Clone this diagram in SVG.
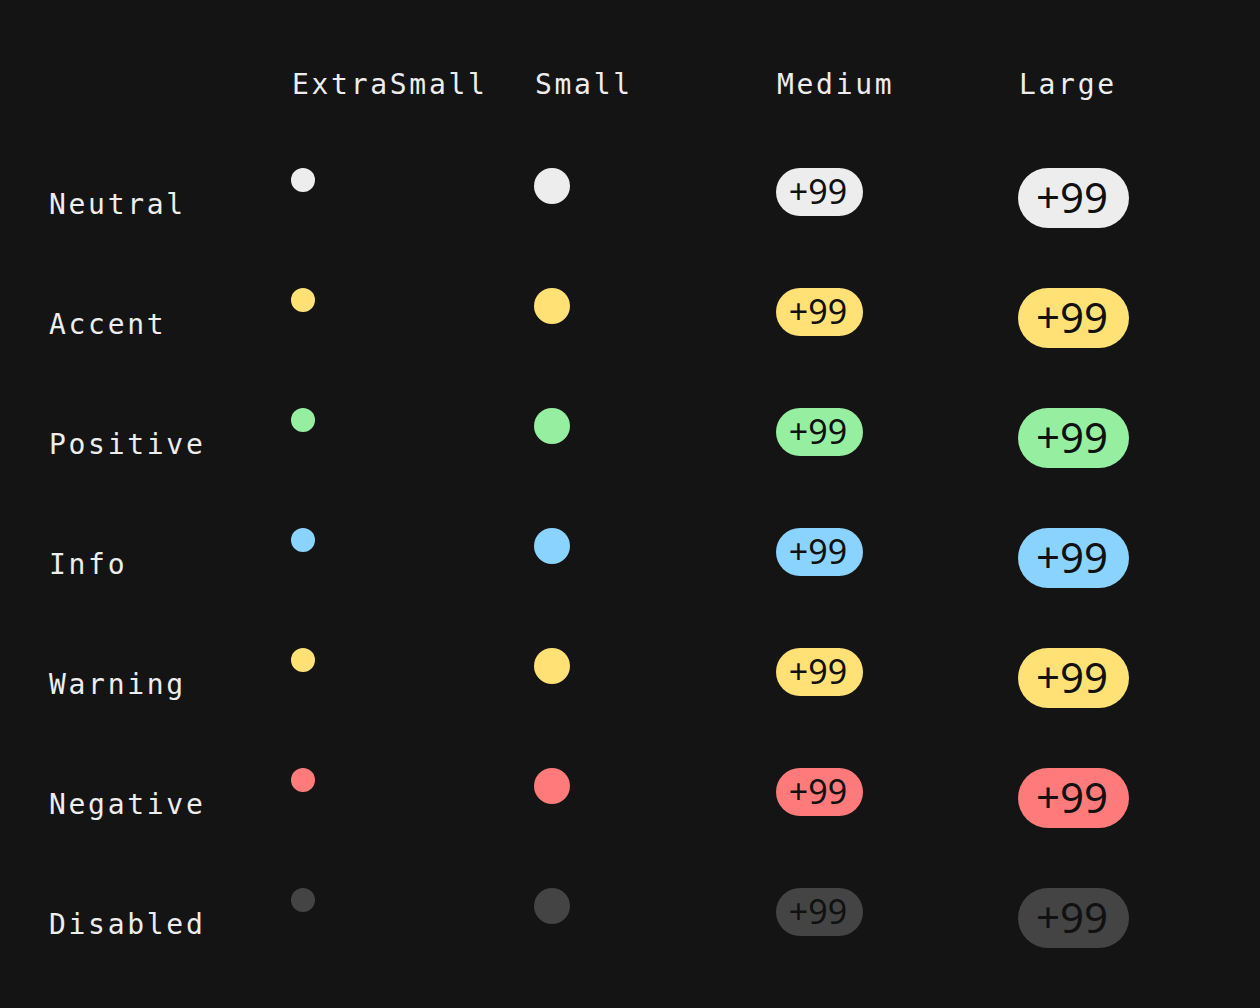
<svg xmlns="http://www.w3.org/2000/svg" width="1260" height="1008" viewBox="0 0 1260 1008">
<style>
.hdr,.lbl{font-family:"DejaVu Sans Mono","Liberation Mono",monospace;font-size:28px;letter-spacing:2.7px;fill:#ededed}
.tm{font-family:"Noto Sans","Open Sans",sans-serif;font-size:34px;fill:#111111;text-anchor:middle}
.tl{font-family:"Noto Sans","Open Sans",sans-serif;font-size:42px;fill:#111111;text-anchor:middle}
.neutral{fill:#ededed}.accent{fill:#ffe175}.positive{fill:#96efa1}.info{fill:#8ad3ff}.warning{fill:#ffe175}.negative{fill:#ff7b7b}.disabled{fill:#444444}
</style>
<rect width="1260" height="1008" fill="#141414"/>
<g id="headers">
<text class="hdr" x="292" y="94">ExtraSmall</text>
<text class="hdr" x="535" y="94">Small</text>
<text class="hdr" x="777" y="94">Medium</text>
<text class="hdr" x="1019" y="94">Large</text>
</g>
<g id="row-neutral">
<text class="lbl" x="49" y="214">Neutral</text>
<circle class="neutral" cx="303" cy="180" r="12"/>
<circle class="neutral" cx="552" cy="186" r="18"/>
<rect class="neutral" x="776" y="168" width="87" height="48" rx="24"/>
<text class="tm" x="818" y="204">+99</text>
<rect class="neutral" x="1018" y="168" width="111" height="60" rx="30"/>
<text class="tl" x="1072" y="213">+99</text>
</g>
<g id="row-accent">
<text class="lbl" x="49" y="334">Accent</text>
<circle class="accent" cx="303" cy="300" r="12"/>
<circle class="accent" cx="552" cy="306" r="18"/>
<rect class="accent" x="776" y="288" width="87" height="48" rx="24"/>
<text class="tm" x="818" y="324">+99</text>
<rect class="accent" x="1018" y="288" width="111" height="60" rx="30"/>
<text class="tl" x="1072" y="333">+99</text>
</g>
<g id="row-positive">
<text class="lbl" x="49" y="454">Positive</text>
<circle class="positive" cx="303" cy="420" r="12"/>
<circle class="positive" cx="552" cy="426" r="18"/>
<rect class="positive" x="776" y="408" width="87" height="48" rx="24"/>
<text class="tm" x="818" y="444">+99</text>
<rect class="positive" x="1018" y="408" width="111" height="60" rx="30"/>
<text class="tl" x="1072" y="453">+99</text>
</g>
<g id="row-info">
<text class="lbl" x="49" y="574">Info</text>
<circle class="info" cx="303" cy="540" r="12"/>
<circle class="info" cx="552" cy="546" r="18"/>
<rect class="info" x="776" y="528" width="87" height="48" rx="24"/>
<text class="tm" x="818" y="564">+99</text>
<rect class="info" x="1018" y="528" width="111" height="60" rx="30"/>
<text class="tl" x="1072" y="573">+99</text>
</g>
<g id="row-warning">
<text class="lbl" x="49" y="694">Warning</text>
<circle class="warning" cx="303" cy="660" r="12"/>
<circle class="warning" cx="552" cy="666" r="18"/>
<rect class="warning" x="776" y="648" width="87" height="48" rx="24"/>
<text class="tm" x="818" y="684">+99</text>
<rect class="warning" x="1018" y="648" width="111" height="60" rx="30"/>
<text class="tl" x="1072" y="693">+99</text>
</g>
<g id="row-negative">
<text class="lbl" x="49" y="814">Negative</text>
<circle class="negative" cx="303" cy="780" r="12"/>
<circle class="negative" cx="552" cy="786" r="18"/>
<rect class="negative" x="776" y="768" width="87" height="48" rx="24"/>
<text class="tm" x="818" y="804">+99</text>
<rect class="negative" x="1018" y="768" width="111" height="60" rx="30"/>
<text class="tl" x="1072" y="813">+99</text>
</g>
<g id="row-disabled">
<text class="lbl" x="49" y="934">Disabled</text>
<circle class="disabled" cx="303" cy="900" r="12"/>
<circle class="disabled" cx="552" cy="906" r="18"/>
<rect class="disabled" x="776" y="888" width="87" height="48" rx="24"/>
<text class="tm" x="818" y="924">+99</text>
<rect class="disabled" x="1018" y="888" width="111" height="60" rx="30"/>
<text class="tl" x="1072" y="933">+99</text>
</g>
</svg>
